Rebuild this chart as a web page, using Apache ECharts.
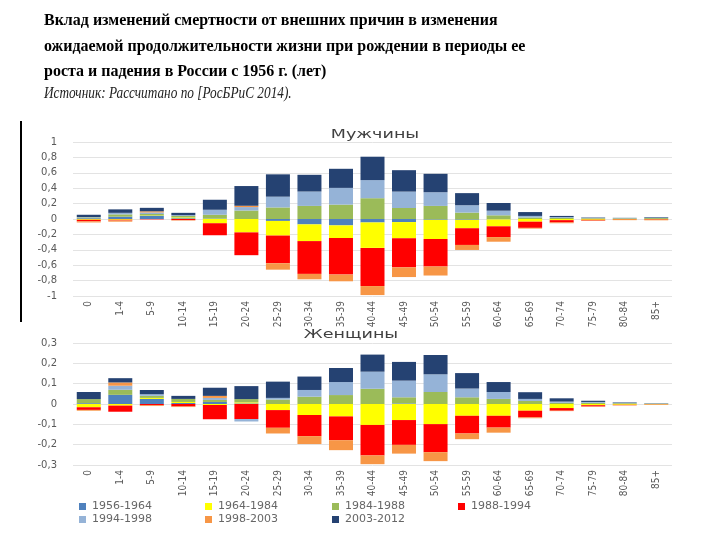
<!DOCTYPE html>
<html><head><meta charset="utf-8">
<script src="https://cdn.jsdelivr.net/npm/echarts@6/dist/echarts.min.js"></script>
<style>html,body{margin:0;padding:0;background:#fff}#c{width:720px;height:540px}</style>
</head><body><div id="c"></div>
<script>
const categories = ['0','1-4','5-9','10-14','15-19','20-24','25-29','30-34','35-39','40-44','45-49','50-54','55-59','60-64','65-69','70-74','75-79','80-84','85+'];
const periods = ['1956-1964','1964-1984','1984-1988','1988-1994','1994-1998','1998-2003','2003-2012'];
const colors = ['#4F81BD','#FFFF00','#9BBB59','#FF0000','#95B3D7','#F79646','#254272'];
const menTicks = [-1,-0.8,-0.6,-0.4,-0.2,0,0.2,0.4,0.6,0.8,1];
const womenTicks = [-0.3,-0.2,-0.1,0,0.1,0.2,0.3];

// Men
const m1956 = [0.01,0.03,0.04,0.01,0.005,0,-0.025,-0.07,-0.083,-0.045,-0.04,-0.01,-0.01,-0.005,0,0,0,0,0];
const m1964 = [-0.01,-0.01,0.005,0.01,-0.055,-0.174,-0.19,-0.217,-0.165,-0.33,-0.21,-0.25,-0.11,-0.09,-0.035,-0.015,-0.01,-0.007,-0.005];
const m1984 = [0.01,0.03,0.02,0.02,0.05,0.11,0.15,0.17,0.187,0.27,0.143,0.17,0.083,0.048,0.02,0.015,0.01,0.008,0.012];
const m1988 = [-0.02,-0.01,-0.005,-0.015,-0.156,-0.296,-0.36,-0.426,-0.474,-0.496,-0.378,-0.357,-0.217,-0.14,-0.08,-0.03,-0.01,-0.005,-0.006];
const m1994 = [0.005,0.02,0.02,0.01,0.065,0.045,0.14,0.187,0.217,0.235,0.213,0.178,0.096,0.06,0.02,0.01,0.005,0.004,0.006];
const m1998 = [-0.015,-0.015,0.015,-0.005,0,0.017,-0.083,-0.07,-0.087,-0.117,-0.126,-0.117,-0.065,-0.06,-0.01,-0.01,-0.005,-0.003,-0.006];
const m2003 = [0.03,0.045,0.045,0.03,0.13,0.256,0.29,0.217,0.248,0.304,0.278,0.239,0.157,0.1,0.05,0.015,0.005,0.003,0.007];

// Women
const w1956 = [0.004,0.045,0.025,0.005,0.01,0.003,0,0,0,0,0.003,0,0,0,0,0,0,0.002,0];
const w1964 = [-0.016,-0.008,0.005,0.005,-0.005,0.005,-0.03,-0.054,-0.061,-0.103,-0.079,-0.099,-0.058,-0.058,-0.033,-0.02,-0.006,-0.004,-0.002];
const w1984 = [0.02,0.025,0.01,0.015,0.01,0.016,0.022,0.036,0.044,0.075,0.03,0.059,0.033,0.025,0.015,0.006,0.006,0.003,0.002];
const w1988 = [-0.013,-0.03,-0.006,-0.012,-0.07,-0.074,-0.087,-0.104,-0.117,-0.15,-0.122,-0.138,-0.087,-0.058,-0.033,-0.013,-0.006,-0.002,-0.001];
const w1994 = [0,0.02,0.008,0,0.01,-0.012,0.008,0.033,0.064,0.084,0.082,0.087,0.043,0.034,0.01,0.006,0.004,0.002,0.002];
const w1998 = [-0.004,0.016,-0.004,-0.003,0.01,0,-0.028,-0.039,-0.049,-0.043,-0.043,-0.044,-0.028,-0.025,-0.004,-0.002,-0.002,-0.001,-0.002];
const w2003 = [0.035,0.021,0.021,0.015,0.04,0.064,0.08,0.066,0.069,0.084,0.092,0.095,0.076,0.049,0.033,0.016,0.006,0.002,0.001];

const titleLines = ['Вклад изменений смертности от внешних причин в изменения','ожидаемой продолжительности жизни при рождении в периоды ее','роста и падения в России с 1956 г. (лет)'];
const sourceText = 'Источник: Рассчитано по [РосБРиС 2014).';
const menTitle = 'Мужчины';
const womenTitle = 'Женщины';

const menData = [m1956,m1964,m1984,m1988,m1994,m1998,m2003];
const womenData = [w1956,w1964,w1984,w1988,w1994,w1998,w2003];

const fmt = v => String(Math.round(v*10)/10).replace('.', ',');
const axisFont = {color:'#595959', fontFamily:'DejaVu Sans', fontSize:10};

function xAx(gi){
  return {type:'category', gridIndex:gi, data:categories,
    axisLine:{show:false, onZero:false}, axisTick:{show:false},
    axisLabel:{rotate:90, interval:0, margin:5, color:'#595959', fontFamily:'Liberation Sans Narrow, DejaVu Sans Condensed, sans-serif', fontSize:10}};
}
function yAx(gi, ticks, step){
  return {type:'value', gridIndex:gi, min:ticks[0], max:ticks[ticks.length-1], interval:step,
    axisLine:{show:false}, axisTick:{show:false},
    splitLine:{lineStyle:{color:'#E3E3E3', width:1}},
    axisLabel:Object.assign({formatter:fmt, margin:16}, axisFont)};
}

const series = [];
periods.forEach((p,i)=>{
  series.push({name:p, type:'bar', stack:'men', xAxisIndex:0, yAxisIndex:0, data:menData[i], barWidth:24, itemStyle:{color:colors[i]}, emphasis:{disabled:true}});
});
periods.forEach((p,i)=>{
  series.push({name:p, type:'bar', stack:'women', xAxisIndex:1, yAxisIndex:1, data:womenData[i], barWidth:24, itemStyle:{color:colors[i]}, emphasis:{disabled:true}});
});

const legendPos = [[74,496],[200,496],[327,496],[453,496],[74,509],[200,509],[327,509]];
const legends = periods.map((p,i)=>({data:[p], left:legendPos[i][0], top:legendPos[i][1], itemWidth:7, itemHeight:7, itemGap:0,
  icon:'rect', textStyle:{color:'#666', fontFamily:'DejaVu Sans', fontSize:11, padding:[0,0,0,1]}, selectedMode:false}));

const chart = echarts.init(document.getElementById('c'), null, {renderer:'canvas'});
chart.setOption({
  animation:false,
  backgroundColor:'#fff',
  grid:[{left:73, right:48, top:142, height:154}, {left:73, right:48, top:343, height:122}],
  xAxis:[xAx(0), xAx(1)],
  yAxis:[yAx(0, menTicks, 0.2), yAx(1, womenTicks, 0.1)],
  legend:legends,
  series:series,
  graphic:[
    {type:'text', x:44, y:8, scaleX:0.94, style:{text:titleLines.join('\n'), font:'bold 17px "Liberation Serif"', lineHeight:25.5, fill:'#000'}},
    {type:'text', x:44, y:86, scaleX:0.83, style:{text:sourceText, font:'italic 16px "Liberation Serif"', fill:'#222'}},
    {type:'text', x:375, y:135, scaleX:1.35, style:{text:menTitle, font:'13px "DejaVu Sans"', fill:'#404040', align:'center', verticalAlign:'middle'}},
    {type:'text', x:351, y:335, scaleX:1.35, style:{text:womenTitle, font:'13px "DejaVu Sans"', fill:'#404040', align:'center', verticalAlign:'middle'}},
    {type:'rect', shape:{x:20, y:121, width:2, height:201}, style:{fill:'#000'}}
  ]
});
</script></body></html>
